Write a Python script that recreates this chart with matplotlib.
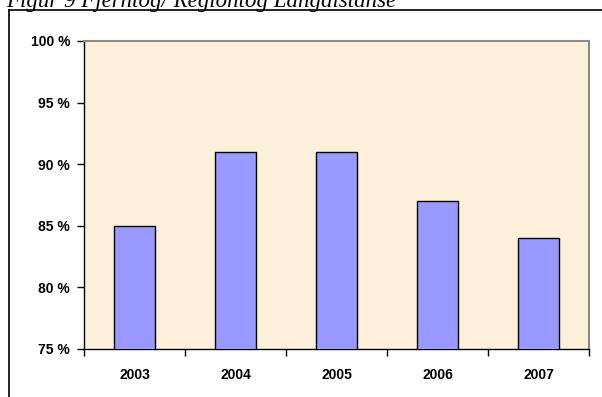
import matplotlib
matplotlib.use("Agg")
import matplotlib.pyplot as plt
from matplotlib.lines import Line2D
import numpy as np

# Punctuality per year
years = ["2003", "2004", "2005", "2006", "2007"]
punctuality = [85, 91, 91, 87, 84]
y_ticks = [75, 80, 85, 90, 95, 100]
title = "Figur 9 Fjerntog/ Regiontog Langdistanse"

W, H = 602, 397
fig = plt.figure(figsize=(W / 100, H / 100), dpi=100)
fig.patch.set_facecolor("white")

# Document caption, partly cut off at the top edge
fig.text(6 / W, 1 - 6.5 / H, title, family="Liberation Serif", style="italic",
         fontsize=16.5, va="baseline", ha="left", color="black")

# Frame around the chart object
fig.add_artist(Line2D([9 / W, 9 / W], [0, 1 - 9.5 / H], transform=fig.transFigure,
                      color="black", lw=1.2))
fig.add_artist(Line2D([9 / W, 1], [1 - 9.5 / H, 1 - 9.5 / H], transform=fig.transFigure,
                      color="black", lw=1.2))

ax = fig.add_axes([84 / W, 48 / H, 505 / W, 308 / H])
ax.set_facecolor("#FCF0DA")

x = np.arange(len(years))
ax.bar(x, punctuality, width=0.4, color="#9999FF", edgecolor="black", linewidth=1.0,
       zorder=3)

ax.set_xlim(-0.5, len(years) - 0.5)
ax.set_ylim(75, 100)

ax.set_yticks(y_ticks)
ax.set_yticklabels([f"{v} %" for v in y_ticks], family="Liberation Sans",
                   fontweight="bold", fontsize=10)

ax.set_xticks(np.arange(len(years) + 1) - 0.5)
ax.set_xticklabels([])
ax.set_xticks(x, minor=True)
ax.set_xticklabels(years, minor=True, family="Liberation Sans", fontweight="bold",
                   fontsize=10)

ax.tick_params(axis="y", which="major", direction="out", length=5, width=1, pad=5,
               color="black")
ax.tick_params(axis="x", which="major", direction="out", length=5, width=1,
               color="black")
ax.tick_params(axis="x", which="minor", length=0, pad=14)

for side in ("left", "bottom"):
    ax.spines[side].set_color("black")
    ax.spines[side].set_linewidth(1.0)
for side in ("top", "right"):
    ax.spines[side].set_color("#8c8c8c")
    ax.spines[side].set_linewidth(1.5)

fig.savefig("out.png", dpi=100)
